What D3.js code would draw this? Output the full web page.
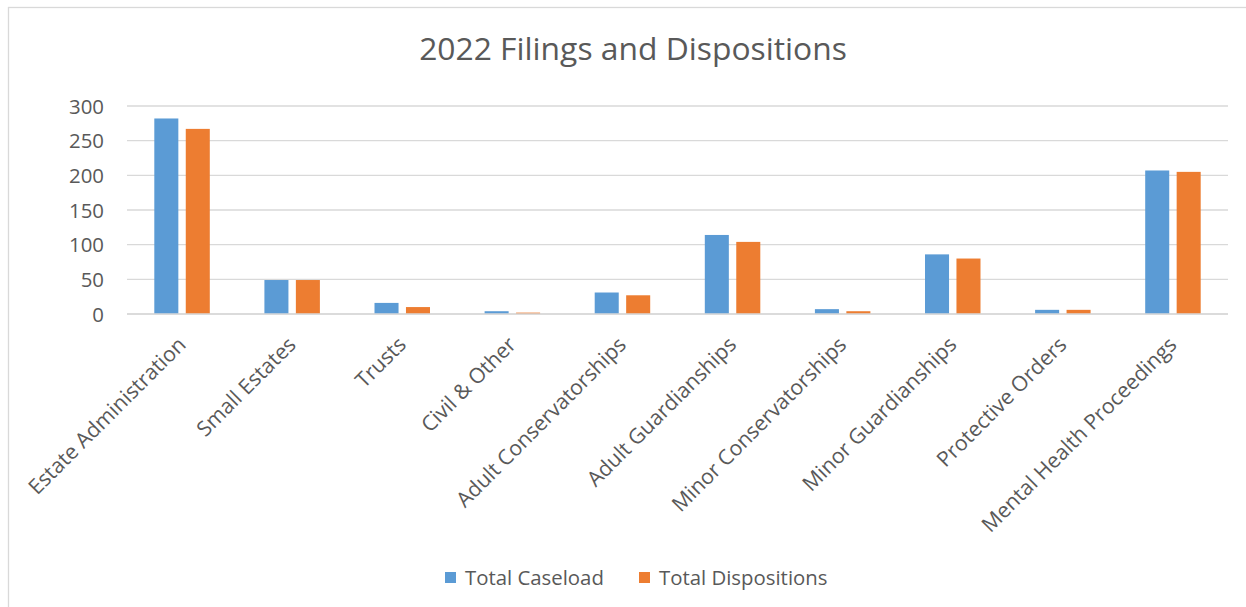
<!DOCTYPE html>
<html>
<head>
<meta charset="utf-8">
<script src="https://cdn.jsdelivr.net/npm/d3@7"></script>
<style>
  html, body { margin: 0; padding: 0; background: #fff; }
  svg { display: block; }
</style>
</head>
<body>
<svg id="chart" width="1246" height="607"></svg>
<script>
const categories = [
  "Estate Administration", "Small Estates", "Trusts", "Civil & Other",
  "Adult Conservatorships", "Adult Guardianships", "Minor Conservatorships",
  "Minor Guardianships", "Protective Orders", "Mental Health Proceedings"
];
const seriesNames = ["Total Caseload", "Total Dispositions"];
const caseload     = [282, 49, 16, 4, 31, 114, 7, 86, 6, 207];
const dispositions = [267, 49, 10, 2, 27, 104, 4, 80, 6, 205];
const yTicks = [0, 50, 100, 150, 200, 250, 300];
const titleText = "2022 Filings and Dispositions";

const colors = { "Total Caseload": "#5B9BD5", "Total Dispositions": "#ED7D31" };
const textColor = "#595959";
const gridColor = "#D9D9D9";
const FONT = "'Open Sans', 'Noto Sans', sans-serif";

const svg = d3.select("#chart");

// measure helper to match the reference text widths
function fitSize(str, targetWidth) {
  const t = svg.append("text").attr("font-family", FONT).attr("font-size", 100).text(str);
  const w = t.node().getComputedTextLength();
  t.remove();
  return 100 * targetWidth / w;
}
const titleSize = fitSize(titleText, 428);
const tickSize = fitSize("300", 35);
const catSize = fitSize("Estate Administration", 212);
const legendSize = fitSize("Total Caseload", 139);

// border
svg.append("rect")
  .attr("x", 8.5).attr("y", 7.5)
  .attr("width", 1260).attr("height", 620)
  .attr("fill", "#fff").attr("stroke", gridColor).attr("stroke-width", 1.3);

const plot = { left: 127, right: 1228, top: 106, bottom: 314 };

const x0 = d3.scaleBand().domain(categories).range([plot.left, plot.right]).padding(0);
const x1 = d3.scaleBand().domain(seriesNames)
  .range([x0.bandwidth() * 0.248, x0.bandwidth() * 0.752]).paddingInner(0.236);
const y = d3.scaleLinear().domain([0, 300]).range([plot.bottom, plot.top]);

// gridlines
svg.append("g").selectAll("line").data(yTicks).join("line")
  .attr("x1", plot.left).attr("x2", plot.right)
  .attr("y1", d => y(d)).attr("y2", d => y(d))
  .attr("stroke", gridColor).attr("stroke-width", 1.3);

// y axis labels
const yAxis = d3.axisLeft(y).tickValues(yTicks).tickSize(0).tickPadding(0);
const yg = svg.append("g").attr("transform", `translate(${104},0)`).call(yAxis);
yg.select(".domain").remove();
yg.selectAll("text")
  .attr("font-family", FONT).attr("font-size", tickSize)
  .attr("fill", textColor).attr("dy", "0.35em");

// bars
const data = categories.map((c, i) => ({ cat: c, vals: [
  { name: seriesNames[0], value: caseload[i] },
  { name: seriesNames[1], value: dispositions[i] }
]}));
const groups = svg.append("g").selectAll("g").data(data).join("g")
  .attr("transform", d => `translate(${x0(d.cat)},0)`);
groups.selectAll("rect").data(d => d.vals).join("rect")
  .attr("x", d => x1(d.name))
  .attr("width", x1.bandwidth())
  .attr("y", d => y(d.value))
  .attr("height", d => y(0) - y(d.value))
  .attr("fill", d => colors[d.name]);

// x axis baseline
svg.append("line")
  .attr("x1", plot.left).attr("x2", plot.right)
  .attr("y1", y(0)).attr("y2", y(0))
  .attr("stroke", gridColor).attr("stroke-width", 1.3);

// category labels
svg.append("g").selectAll("text").data(categories).join("text")
  .attr("transform", d => `translate(${x0(d) + x0.bandwidth() / 2 + 5},${y(0) + 32}) rotate(-45)`)
  .attr("text-anchor", "end")
  .attr("font-family", FONT).attr("font-size", catSize)
  .attr("fill", textColor)
  .text(d => d);

// title
svg.append("text")
  .attr("x", 633).attr("y", 60)
  .attr("text-anchor", "middle")
  .attr("font-family", FONT).attr("font-size", titleSize)
  .attr("fill", textColor)
  .text(titleText);

// legend
const legendX = [445, 639];
const lg = svg.append("g").selectAll("g").data(seriesNames).join("g")
  .attr("transform", (d, i) => `translate(${legendX[i]},572)`);
lg.append("rect").attr("width", 11).attr("height", 11).attr("fill", d => colors[d]);
lg.append("text")
  .attr("x", 20).attr("y", 5.5).attr("dy", "0.35em")
  .attr("font-family", FONT).attr("font-size", legendSize)
  .attr("fill", textColor)
  .text(d => d);
</script>
</body>
</html>
